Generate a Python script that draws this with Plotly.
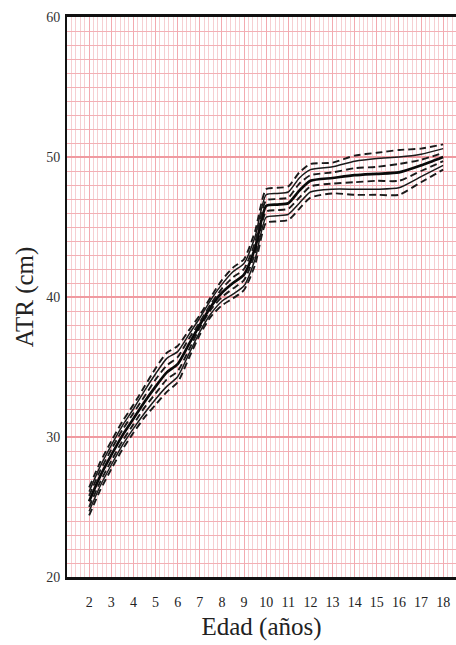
import plotly.graph_objects as go

# Age (years) and arm-span (ATR, cm) percentile curves
ages = [2, 2.5, 3, 3.5, 4, 4.5, 5, 5.5, 6, 6.5, 7, 7.5, 8, 8.5, 9, 9.5,
        10, 10.5, 11, 11.5, 12, 13, 14, 15, 16, 17, 18]

p3 = [24.4, 26.2, 27.7, 29.1, 30.3, 31.4, 32.3, 33.2, 33.9, 35.6, 37.3, 38.6, 39.4, 39.9,
      40.5, 42.3, 45.3, 45.4, 45.5, 46.3, 47.1, 47.4, 47.3, 47.3, 47.3, 48.2, 49.1]
p10 = [24.7, 26.5, 28.0, 29.4, 30.6, 31.7, 32.7, 33.6, 34.3, 35.9, 37.5, 38.8, 39.7, 40.2,
       40.8, 42.7, 45.7, 45.8, 45.9, 46.7, 47.5, 47.7, 47.7, 47.7, 47.8, 48.6, 49.4]
p25 = [25.0, 26.8, 28.3, 29.7, 30.9, 32.1, 33.1, 34.1, 34.7, 36.2, 37.8, 39.1, 40.0, 40.6,
       41.2, 43.1, 46.1, 46.2, 46.3, 47.1, 47.9, 48.1, 48.2, 48.3, 48.3, 49.0, 49.7]
p50 = [25.4, 27.2, 28.7, 30.1, 31.3, 32.5, 33.6, 34.6, 35.2, 36.6, 38.0, 39.3, 40.3, 41.0,
       41.6, 43.5, 46.5, 46.6, 46.7, 47.6, 48.3, 48.5, 48.7, 48.8, 48.9, 49.4, 50.0]
p75 = [25.8, 27.6, 29.1, 30.5, 31.7, 32.9, 34.1, 35.1, 35.7, 37.0, 38.2, 39.5, 40.6, 41.4,
       42.0, 43.9, 46.9, 47.0, 47.1, 48.1, 48.7, 48.9, 49.2, 49.3, 49.5, 49.8, 50.3]
p90 = [26.1, 27.9, 29.4, 30.8, 32.0, 33.3, 34.5, 35.6, 36.1, 37.3, 38.5, 39.8, 40.9, 41.8,
       42.4, 44.3, 47.3, 47.4, 47.5, 48.5, 49.1, 49.3, 49.7, 49.9, 50.0, 50.2, 50.6]
p97 = [26.4, 28.2, 29.7, 31.1, 32.3, 33.6, 34.9, 36.0, 36.5, 37.6, 38.7, 40.0, 41.2, 42.1,
       42.7, 44.7, 47.7, 47.8, 47.9, 48.9, 49.5, 49.6, 50.1, 50.3, 50.5, 50.6, 50.9]

x_ticks = list(range(2, 19))
y_ticks = [20, 30, 40, 50, 60]

curves = [
    ("P3", p3, "dashed"),
    ("P10", p10, "thin"),
    ("P25", p25, "dashed"),
    ("P50", p50, "thick"),
    ("P75", p75, "dashed"),
    ("P90", p90, "thin"),
    ("P97", p97, "dashed"),
]

styles = {
    "dashed": dict(color="#1a1a1a", width=1.9, dash="7px,4px"),
    "thin": dict(color="#1a1a1a", width=1.5, dash="solid"),
    "thick": dict(color="#0a0a0a", width=2.7, dash="solid"),
}

fig = go.Figure()
for name, vals, kind in curves:
    fig.add_trace(go.Scatter(
        x=ages, y=vals, mode="lines", name=name,
        line=dict(shape="spline", smoothing=0.6, **styles[kind]),
        showlegend=False, hoverinfo="skip",
    ))

serif = "Liberation Serif, Times New Roman, serif"

fig.update_layout(
    width=456, height=645,
    margin=dict(l=67, r=0, t=17, b=68),
    paper_bgcolor="white",
    plot_bgcolor="white",
    font=dict(family=serif, color="#222"),
)

fig.update_xaxes(
    range=[1.0, 18.58],
    tickvals=x_ticks,
    ticktext=[str(t) for t in x_ticks],
    tickfont=dict(family=serif, size=14, color="#222"),
    ticks="", ticklabelstandoff=10,
    showgrid=True, gridcolor="#f3aab0", gridwidth=1.2,
    minor=dict(dtick=0.2, tick0=0, showgrid=True, gridcolor="#f6cfd2", gridwidth=0.9),
    showline=True, linecolor="#111", linewidth=3, mirror=True,
    zeroline=False,
    title=dict(text="Edad (años)", font=dict(family=serif, size=25, color="#222"), standoff=9),
)

fig.update_yaxes(
    range=[20, 60],
    tickvals=y_ticks,
    tickfont=dict(family=serif, size=14, color="#333"),
    ticks="", ticklabelstandoff=2,
    showgrid=True, gridcolor="#f09aa0", gridwidth=1.6,
    minor=dict(dtick=1, tick0=0, showgrid=True, gridcolor="#f3b0b5", gridwidth=1.2),
    showline=True, linecolor="#111", linewidth=2, mirror=False,
    zeroline=False,
    title=dict(text="ATR (cm)", font=dict(family=serif, size=25, color="#222"), standoff=5),
)

fig.write_html("out.html")
